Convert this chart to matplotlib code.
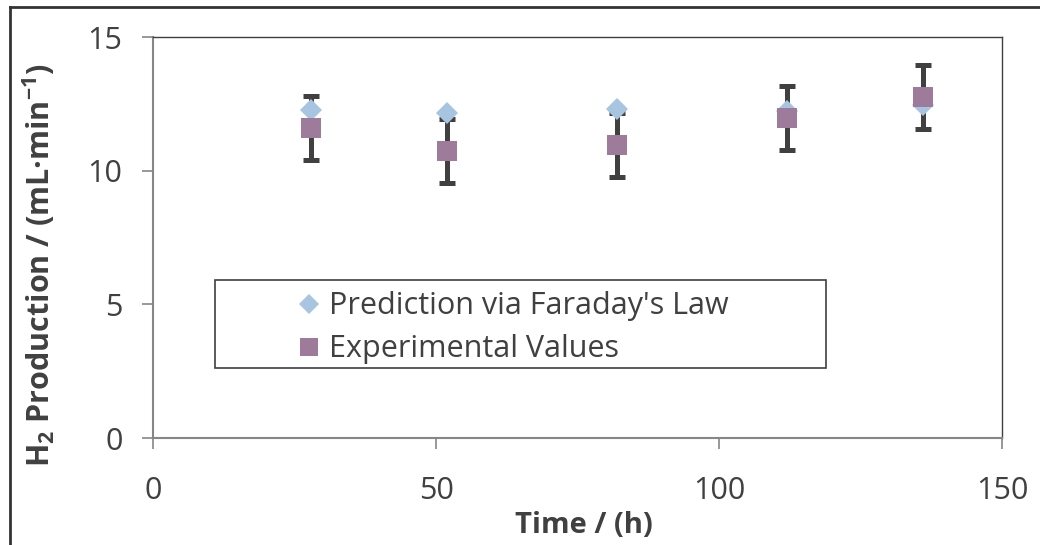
import matplotlib
matplotlib.use("Agg")
import matplotlib.pyplot as plt
from matplotlib.lines import Line2D
from matplotlib.patches import Rectangle

time_h = [28, 52, 82, 112, 136]
prediction = [12.27, 12.16, 12.30, 12.25, 12.45]
experimental = [11.60, 10.74, 10.95, 11.97, 12.75]
exp_err = [1.2, 1.2, 1.2, 1.2, 1.2]
xticks = [0, 50, 100, 150]
yticks = [0, 5, 10, 15]
series_names = ["Prediction via Faraday's Law", "Experimental Values"]

plt.rcParams['font.family'] = ['Open Sans', 'DejaVu Sans']
plt.rcParams['mathtext.fontset'] = 'custom'
plt.rcParams['mathtext.rm'] = 'Open Sans'
plt.rcParams['mathtext.bf'] = 'Open Sans:bold'
plt.rcParams['mathtext.default'] = 'bf'

fig = plt.figure(figsize=(10.4, 5.45), dpi=100)
ax = fig.add_axes([0.1471, 0.1963, 0.8164, 0.7358])

blue = '#A7C4E0'
purple = '#9E7B9B'
dark = '#404040'

eb = ax.errorbar(time_h, experimental, yerr=exp_err, fmt='none', ecolor=dark,
                 elinewidth=3.6, capsize=5.8, capthick=3.6, zorder=1)
for ln in eb.lines[2]:
    ln.set_capstyle('round')

ax.plot(time_h, prediction, linestyle='none', marker='D', markersize=11.5,
        color=blue, markeredgewidth=0, zorder=2, label=series_names[0])
ax.plot(time_h, experimental, linestyle='none', marker='s', markersize=15,
        color=purple, markeredgewidth=0, zorder=3, label=series_names[1])

ax.set_xlim(0, 150)
ax.set_ylim(0, 15)
ax.set_xticks(xticks)
ax.set_yticks(yticks)
ax.tick_params(axis='both', direction='out', length=8, width=1.2, color='#868686',
               labelsize=22, labelcolor=dark)
ax.tick_params(axis='y', pad=14)
ax.tick_params(axis='x', pad=19)

for s in ['left', 'bottom']:
    ax.spines[s].set_color('#868686')
    ax.spines[s].set_linewidth(1.5)
for s in ['top', 'right']:
    ax.spines[s].set_color(dark)
    ax.spines[s].set_linewidth(1.0)

ax.set_xlabel('Time / (h)', fontsize=21, fontweight='bold', color=dark)
ax.xaxis.set_label_coords(0.508, -0.182)
ax.set_ylabel('H$_2$ Production / (mL·min$^{-1}$)', fontsize=22, fontweight='bold',
              color=dark)
ax.yaxis.set_label_coords(-0.113, 0.43)

leg = ax.legend(loc='upper left', bbox_to_anchor=(0.142, 0.427), frameon=False,
                fontsize=22, markerscale=0.9, handlelength=0.7, handletextpad=0.3,
                labelspacing=0.43, borderpad=0.3, labelcolor=dark)
ax.add_patch(Rectangle((0.073, 0.1746), 0.72, 0.2194, transform=ax.transAxes,
                       fill=False, edgecolor=dark, linewidth=1.2, zorder=5))

fig.add_artist(Line2D([10/1040, 10/1040], [0, 1 - 7/545], color='#333333', linewidth=2))
fig.add_artist(Line2D([10/1040, 1], [1 - 7/545, 1 - 7/545], color='#333333', linewidth=2))

fig.savefig('out.png', dpi=100)
